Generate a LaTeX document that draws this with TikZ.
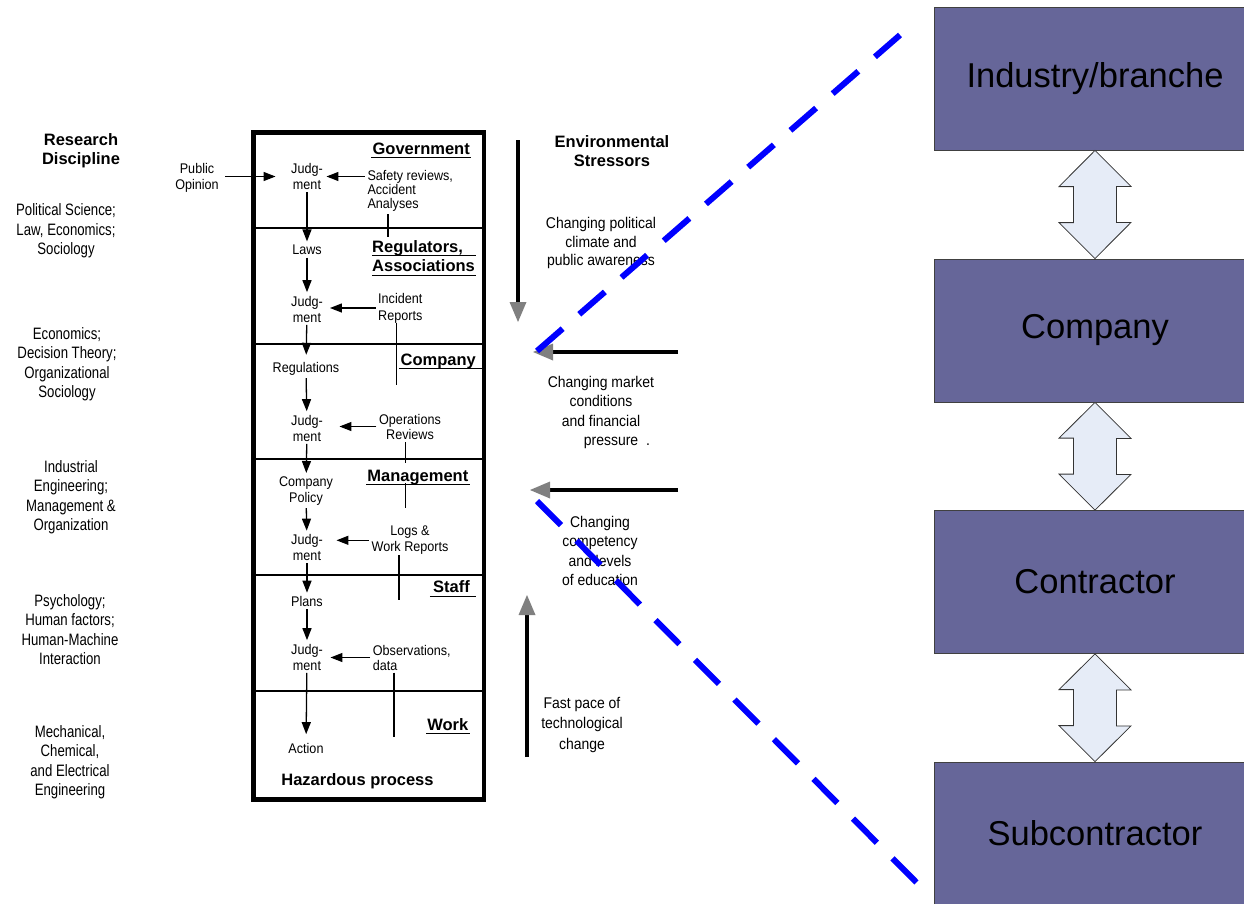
\documentclass[tikz,border=0pt]{standalone}
\usepackage{fontspec}
\setmainfont{Liberation Sans}
\newfontfamily\cnd[FakeStretch=0.8]{Liberation Sans}
\newfontfamily\cndb[FakeStretch=0.9]{Liberation Sans}
\usetikzlibrary{arrows.meta,calc}

\definecolor{boxfill}{HTML}{666699}
\definecolor{dblfill}{HTML}{E6ECF7}
\definecolor{tipgray}{HTML}{808080}
\definecolor{dashblue}{HTML}{0000FF}

\tikzset{
  heading/.style={align=center,font=\bfseries\fontsize{16.5}{19}\selectfont,inner sep=0},
  disc/.style={align=center,font=\cnd\fontsize{16.5}{19.5}\selectfont,inner sep=0},
  flowtxt/.style={align=center,font=\cndb\fontsize{14}{16}\selectfont,inner sep=2.5},
  sidetxt/.style={font=\cndb\fontsize{14}{#1}\selectfont,inner sep=2.5},
  stresstxt/.style={align=center,font=\cndb\fontsize{15.5}{#1}\selectfont,inner sep=0},
  sect/.style={font=\bfseries\fontsize{16.5}{19}\selectfont,inner xsep=1,inner ysep=0},
  ulined/.style={line width=1},
  divider/.style={line width=1.2},
  flow/.style={line width=1.3,-{Triangle[length=12pt,width=9pt]},shorten >=1},
  stress/.style={line width=4,-{Triangle[length=20pt,width=17pt,line width=0pt,color=tipgray]}},
  stage/.style={draw=black!75,line width=0.8,fill=boxfill,minimum width=322,minimum height=143,
    font=\fontsize{34.5}{40}\selectfont,inner sep=0},
  linkarrow/.style={draw=black!80,fill=dblfill,line width=0.8},
  boundary/.style={draw=dashblue,line width=6,dash pattern=on 34pt off 22pt}
}

\begin{document}
\begin{tikzpicture}[x=1pt,y=-1pt]
\useasboundingbox (0,0) rectangle (1244,903);
\clip (0,0) rectangle (1244,903);

% ---- research disciplines ----
\node[heading] (rd) at (81,150.5) {Research\\Discipline};
\node[disc] (d1) at (66,231) {Political Science;\\Law, Economics;\\Sociology};
\node[disc] (d2) at (67,364) {Economics;\\Decision Theory;\\Organizational\\Sociology};
\node[disc] (d3) at (71,497) {Industrial\\Engineering;\\Management \&\\Organization};
\node[disc] (d4) at (70,629.5) {Psychology;\\Human factors;\\Human-Machine\\Interaction};
\node[disc] (d5) at (70,762) {Mechanical,\\Chemical,\\and Electrical\\Engineering};

% ---- system levels frame ----
\node[draw,line width=4.5,minimum width=230.5,minimum height=667,inner sep=0] (frame) at (368.75,466) {};
\foreach \y in {228,344,459,575,691}
  \draw[divider] (frame.west |- 0,\y) -- (frame.east |- 0,\y);

% level titles
\node[sect,anchor=base east] (gov) at (471,154.5) {Government};
\node[sect,anchor=base west,inner xsep=0] (reg1) at (372,252.5) {Regulators,};
\node[sect,anchor=base west,inner xsep=0] (reg2) at (372,271.5) {Associations};
\node[sect,anchor=base east] (comp) at (477,365) {Company};
\node[sect,anchor=base east] (mgmt) at (469.5,481) {Management};
\node[sect,anchor=base east] (staff) at (471,592.5) {Staff};
\node[sect,anchor=base east] (work) at (469.5,730) {Work};
\node[sect] (haz) at (357.5,781.5) {Hazardous process};

\draw[ulined] ([yshift=-2.7pt]gov.base west) -- ([yshift=-2.7pt]gov.base east);
\draw[ulined] ([yshift=-2.5pt]reg1.base west) -- ([yshift=-2.5pt]reg1.base west -| 476,0);
\draw[ulined] ([yshift=-4pt]reg2.base west) -- ([yshift=-4pt]reg2.base west -| 476,0);
\draw[ulined] ([yshift=-3pt]comp.base west) -- ([yshift=-3pt]comp.base west -| frame.east);
\draw[ulined] ([yshift=-3pt]mgmt.base west) -- ([yshift=-3pt]mgmt.base east);
\draw[ulined] ([xshift=-2pt,yshift=-4pt]staff.base west) -- ([xshift=5pt,yshift=-4pt]staff.base east);
\draw[ulined] ([yshift=-3pt]work.base west) -- ([yshift=-3pt]work.base east);

% decision chain
\node[flowtxt] (j1) at (307,176.5) {Judg-\\ment};
\node[flowtxt] (laws) at (307,250) {Laws};
\node[flowtxt] (j2) at (307,309) {Judg-\\ment};
\node[flowtxt] (regs) at (306,369) {Regulations};
\node[flowtxt] (j3) at (307,428) {Judg-\\ment};
\node[flowtxt] (policy) at (306,491) {Company\\Policy};
\node[flowtxt] (j4) at (307,547.5) {Judg-\\ment};
\node[flowtxt] (plans) at (307,601.5) {Plans};
\node[flowtxt] (j5) at (307,657) {Judg-\\ment};
\node[flowtxt] (action) at (306,748) {Action};

\draw[flow] (j1) -- (laws);
\draw[flow] (laws) -- (j2);
\draw[flow,shorten >=5] (j2) -- (regs);
\draw[flow] (regs) -- (j3);
\draw[flow] (j3) -- (policy);
\draw[flow] (policy) -- (j4);
\draw[flow] (j4) -- (plans);
\draw[flow] (plans) -- (j5);
\draw[flow,shorten >=6] (j5) -- (action);

% feedback sources
\node[sidetxt=14.3,align=left,anchor=west] (sr) at (364.8,191) {Safety reviews,\\Accident\\Analyses};
\node[sidetxt=17,align=left,anchor=west] (ir) at (375.5,308) {Incident\\Reports};
\node[sidetxt=15,align=center] (opr) at (410,426.5) {Operations\\Reviews};
\node[sidetxt=15.5,align=center] (lw) at (410,540.3) {Logs \&\\Work Reports};
\node[sidetxt=15,align=left,anchor=west] (ob) at (370.2,657.5) {Observations,\\data};
\node[font=\cndb\fontsize{14}{16}\selectfont,align=center,inner sep=2.5] (po) at (197,178) {Public\\Opinion};

\draw[flow] (sr.west |- j1) -- (j1.east);
\draw[flow,shorten >=4.5] (ir.west) -- (ir.west -| j2.east);
\draw[flow,shorten >=14] (opr.west) -- (opr.west -| j3.east);
\draw[flow,shorten >=11] (lw.west) -- (lw.west -| j4.east);
\draw[flow,shorten >=5] (ob.west) -- (ob.west -| j5.east);
\draw[flow,shorten <=4,shorten >=13] (po.east |- j1) -- (j1.west);

% report lines running across level boundaries
\draw[divider] (388,214) -- (388,237);
\draw[divider] (396.7,323) -- (396.7,385);
\draw[divider] (405.7,442) -- (405.7,463);
\draw[divider] (405.7,483) -- (405.7,508);
\draw[divider] (399,555) -- (399,600);
\draw[divider] (394,672.7) -- (394,736.7);

% ---- environmental stressors ----
\node[heading] (es) at (612,151) {Environmental\\Stressors};
\node[stresstxt=18.5] (cp) at (601,243) {Changing political\\climate and\\public awareness};
\node[stresstxt=19.5] (cm) at (601,412.5) {Changing market\\conditions\\and financial\\\hspace*{32pt}pressure\hspace{8pt}.};
\node[stresstxt=19.5] (cc) at (600,551) {Changing\\competency\\and levels\\of education};
\node[stresstxt=20.5] (fp) at (582,724.5) {Fast pace of\\technological\\change};

\coordinate (sd0) at (518,140);  \coordinate (sd1) at (518,322);
\coordinate (sm0) at (678,352);  \coordinate (sm1) at (533,352);
\coordinate (sc0) at (678,490);  \coordinate (sc1) at (530,490);
\coordinate (su0) at (527,757);  \coordinate (su1) at (527,595);
\draw[stress] (sd0) -- (sd1);
\draw[stress] (sm0) -- (sm1);
\draw[stress] (sc0) -- (sc1);
\draw[stress] (su0) -- (su1);

% ---- organisational chain ----
\node[stage] (s1) at (1095,78.5) {Industry/branche};
\node[stage] (s2) at (1095,330.5) {Company};
\node[stage] (s3) at (1095,582) {Contractor};
\node[stage] (s4) at (1095,833.5) {Subcontractor};

\foreach \a/\b in {s1/s2,s2/s3,s3/s4}
  \draw[linkarrow] (\a.south) -- ++(36,36) -- ++(-14.5,0) -- ++(0,36) -- ++(14.5,0)
    -- (\b.north) -- ++(-36,-36) -- ++(14.5,0) -- ++(0,-36) -- ++(-14.5,0) -- cycle;

% ---- company scope boundary ----
\coordinate (bu0) at (537,351);  \coordinate (bu1) at (900,35);
\coordinate (bl0) at (537,501);  \coordinate (bl1) at (917,883);
\draw[boundary] (bu0) -- (bu1);
\draw[boundary] (bl0) -- (bl1);
\end{tikzpicture}
\end{document}
